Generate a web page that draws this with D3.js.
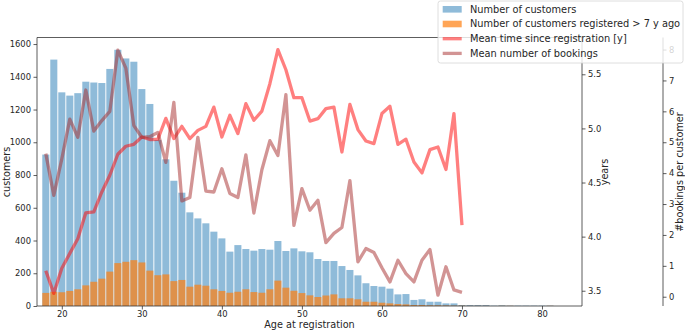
<!DOCTYPE html>
<html>
<head>
<meta charset="utf-8">
<script src="https://cdn.jsdelivr.net/npm/d3@7"></script>
<style>
  body { margin: 0; background: #fff; }
  text { font-family: "DejaVu Sans", sans-serif; fill: #262626; }
</style>
</head>
<body>
<svg id="chart" width="685" height="332"></svg>
<script>
// ages for the bars, and for the two lines
const ages = d3.range(18, 82);
const lineAges = d3.range(18, 71);

// number of customers per age at registration
const customers = [925, 1505, 1305, 1285, 1300, 1370, 1365, 1362, 1448, 1565, 1512, 1492, 1325, 1234, 1014, 896,
  765, 692, 572, 535, 505, 454, 413, 332, 372, 348, 338, 348, 344, 397, 336, 352, 334, 328, 287, 275, 275, 244,
  220, 187, 139, 122, 118, 106, 71, 73, 37, 41, 26, 26, 16, 16, 6, 6, 6, 6, 2, 4, 2, 2, 2, 2, 2, 2];
// customers registered more than 7 years ago
const oldCustomers = [80, 87, 84, 92, 102, 126, 148, 167, 210, 262, 270, 280, 266, 216, 188, 193,
  152, 159, 118, 130, 124, 102, 92, 81, 87, 102, 85, 81, 102, 155, 112, 93, 79, 65, 55, 64, 71, 47,
  47, 41, 26, 26, 20, 16, 12, 10, 6, 6, 4, 4, 3, 2, 2, 1, 1, 1, 0, 1, 1, 0, 0, 0, 0, 1];
// mean time since registration [y]
const meanYears = [3.685, 3.476, 3.707, 3.845, 3.98, 4.22, 4.229, 4.413, 4.567, 4.761, 4.835, 4.853, 4.921,
  4.897, 4.9, 5.093, 4.906, 5.019, 4.906, 4.982, 5.019, 5.197, 4.921, 5.121, 4.952, 5.229, 5.075, 5.16,
  5.413, 5.727, 5.542, 5.284, 5.284, 5.068, 5.09, 5.183, 5.197, 4.782, 5.222, 4.989, 4.884, 4.86, 5.137,
  5.204, 4.853, 4.9, 4.69, 4.589, 4.804, 4.828, 4.62, 5.137, 4.106];
// mean number of bookings per customer
const meanBookings = [4.63, 3.28, 4.46, 5.75, 5.16, 6.69, 5.36, 5.7, 6.0, 7.98, 7.4, 5.54, 5.16, 5.18, 5.32,
  4.35, 6.29, 3.1, 3.21, 5.16, 3.42, 3.39, 4.14, 3.34, 3.21, 4.59, 2.71, 4.11, 5.05, 4.57, 6.54, 2.31, 3.5,
  2.8, 3.12, 1.75, 2.05, 2.24, 3.76, 1.13, 1.56, 1.43, 0.94, 0.48, 1.18, 0.75, 0.48, 1.18, 1.53, 0.05, 0.97,
  0.22, 0.14];

const xTicks = [20, 30, 40, 50, 60, 70, 80];
const countTicks = d3.range(0, 1601, 200);
const yearTicks = [3.5, 4.0, 4.5, 5.0, 5.5];
const bookingTicks = d3.range(0, 9);

const legendItems = [
  { label: "Number of customers", kind: "patch", color: "#1f77b4", alpha: 0.5 },
  { label: "Number of customers registered > 7 y ago", kind: "patch", color: "#ff7f0e", alpha: 0.7 },
  { label: "Mean time since registration [y]", kind: "line", color: "red", alpha: 0.5 },
  { label: "Mean number of bookings", kind: "line", color: "brown", alpha: 0.5 }
];

const plotL = 37, plotR = 582, plotT = 37.5, plotB = 306, bookAxisX = 663;
const svg = d3.select("#chart");

const x = d3.scaleLinear().domain([16.9, 85]).range([plotL, plotR]);
const yCount = d3.scaleLinear().domain([0, 1640]).range([plotB, plotT]);
const yYears = d3.scaleLinear().domain([3.359, 5.84]).range([plotB, plotT]);
const yBook = d3.scaleLinear().domain([-0.3, 8.39]).range([plotB, plotT]);

const barW = (x(1) - x(0)) * 0.88;

// bars
svg.append("g").selectAll("rect")
  .data(ages)
  .join("rect")
  .attr("x", (d) => x(d) - barW / 2)
  .attr("width", barW)
  .attr("y", (d, i) => yCount(customers[i]))
  .attr("height", (d, i) => yCount(0) - yCount(customers[i]))
  .attr("fill", "#1f77b4")
  .attr("fill-opacity", 0.5);

svg.append("g").selectAll("rect")
  .data(ages)
  .join("rect")
  .attr("x", (d) => x(d) - barW / 2)
  .attr("width", barW)
  .attr("y", (d, i) => yCount(oldCustomers[i]))
  .attr("height", (d, i) => yCount(0) - yCount(oldCustomers[i]))
  .attr("fill", "#ff7f0e")
  .attr("fill-opacity", 0.7);

// lines
const lineYears = d3.line().x((d) => x(d)).y((d, i) => yYears(meanYears[i]));
const lineBook = d3.line().x((d) => x(d)).y((d, i) => yBook(meanBookings[i]));

svg.append("path")
  .attr("d", lineYears(lineAges))
  .attr("fill", "none")
  .attr("stroke", "red")
  .attr("stroke-opacity", 0.5)
  .attr("stroke-width", 3.3)
  .attr("stroke-linejoin", "round");

svg.append("path")
  .attr("d", lineBook(lineAges))
  .attr("fill", "none")
  .attr("stroke", "brown")
  .attr("stroke-opacity", 0.5)
  .attr("stroke-width", 3.3)
  .attr("stroke-linejoin", "round");

// axes
function styleAxis(g) {
  g.select(".domain").remove();
  g.selectAll(".tick line").attr("stroke", "#333").attr("stroke-width", 0.8);
  g.selectAll(".tick text")
    .style("font-family", "DejaVu Sans")
    .style("font-size", "8.4px")
    .attr("fill", "#262626");
}

svg.append("g")
  .attr("transform", `translate(0,${plotB})`)
  .call(d3.axisBottom(x).tickValues(xTicks).tickSize(3.5).tickPadding(1.8))
  .call(styleAxis);

svg.append("g")
  .attr("transform", `translate(${plotL},0)`)
  .call(d3.axisLeft(yCount).tickValues(countTicks).tickFormat(d3.format("d")).tickSize(3.5).tickPadding(2.5))
  .call(styleAxis);

svg.append("g")
  .attr("transform", `translate(${plotR},0)`)
  .call(d3.axisRight(yYears).tickValues(yearTicks).tickFormat(d3.format(".1f")).tickSize(3.5).tickPadding(2.5))
  .call(styleAxis);

svg.append("g")
  .attr("transform", `translate(${bookAxisX},0)`)
  .call(d3.axisRight(yBook).tickValues(bookingTicks).tickFormat(d3.format("d")).tickSize(3.5).tickPadding(2.5))
  .call(styleAxis);

// spines
const spines = [
  [plotL, plotT, plotL, plotB],
  [plotR, plotT, plotR, plotB],
  [plotL, plotT, plotR, plotT],
  [plotL, plotB, plotR, plotB],
  [bookAxisX, plotT, bookAxisX, plotB]
];
svg.append("g").selectAll("line")
  .data(spines)
  .join("line")
  .attr("x1", (d) => d[0]).attr("y1", (d) => d[1])
  .attr("x2", (d) => d[2]).attr("y2", (d) => d[3])
  .attr("stroke", "#333")
  .attr("stroke-width", 0.8);

// axis labels
svg.append("text")
  .attr("x", (plotL + plotR) / 2).attr("y", 327.5)
  .attr("text-anchor", "middle")
  .style("font-size", "9.7px")
  .text("Age at registration");

svg.append("text")
  .attr("transform", "translate(9.5,172) rotate(-90)")
  .attr("text-anchor", "middle")
  .style("font-size", "9.7px")
  .text("customers");

svg.append("text")
  .attr("transform", "translate(607.5,172) rotate(-90)")
  .attr("text-anchor", "middle")
  .style("font-size", "9.7px")
  .text("years");

svg.append("text")
  .attr("transform", "translate(682.5,172) rotate(-90)")
  .attr("text-anchor", "middle")
  .style("font-size", "9.7px")
  .text("#bookings per customer");

// legend
const legend = svg.append("g").attr("transform", "translate(438,1)");
legend.append("rect")
  .attr("width", 245).attr("height", 62)
  .attr("rx", 2.5)
  .attr("fill", "white").attr("fill-opacity", 0.8)
  .attr("stroke", "#d6d6d6").attr("stroke-width", 0.8);

const entry = legend.selectAll("g.entry")
  .data(legendItems)
  .join("g")
  .attr("class", "entry")
  .attr("transform", (d, i) => `translate(0,${8.3 + i * 14.7})`);

entry.filter((d) => d.kind === "patch").append("rect")
  .attr("x", 4.7).attr("y", -3.3)
  .attr("width", 19).attr("height", 6.6)
  .attr("fill", (d) => d.color)
  .attr("fill-opacity", (d) => d.alpha);

entry.filter((d) => d.kind === "line").append("line")
  .attr("x1", 4.7).attr("x2", 23.7)
  .attr("stroke", (d) => d.color)
  .attr("stroke-opacity", (d) => d.alpha)
  .attr("stroke-width", 3.3);

entry.append("text")
  .attr("x", 32).attr("dy", "0.35em")
  .style("font-size", "9.8px")
  .text((d) => d.label);
</script>
</body>
</html>
